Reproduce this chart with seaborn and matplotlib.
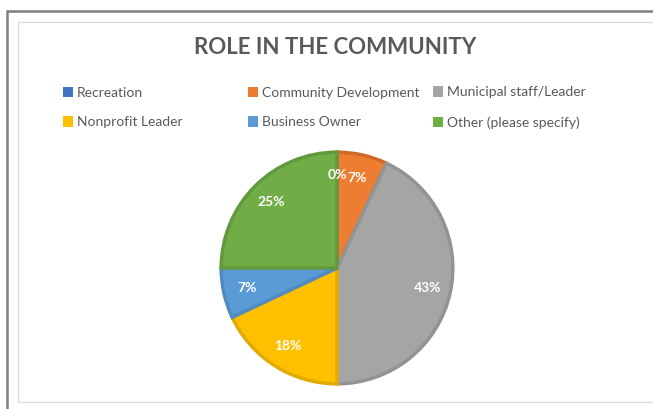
import matplotlib
matplotlib.use("Agg")
import matplotlib.pyplot as plt
import seaborn as sns
from matplotlib.patches import Patch, Rectangle

# Role in the community survey answers (percent of respondents)
roles = ['Recreation', 'Community Development', 'Municipal staff/Leader',
         'Nonprofit Leader', 'Business Owner', 'Other (please specify)']
shares = [0, 7, 43, 18, 7, 25]

colors = ['#4472C4', '#ED7D31', '#A5A5A5', '#FFC000', '#5B9BD5', '#70AD47']
edge_colors = ['#3b63ab', '#d06a26', '#939393', '#e3ab00', '#4f8ac0', '#62993d']

sns.set_style("white")
plt.rcParams['font.family'] = ['Lato', 'DejaVu Sans']

W, H = 653, 409
fig = plt.figure(figsize=(W / 100, H / 100), dpi=100)

# chart frame (outer dark border, inner light border)
fig.patches.append(Rectangle((7 / W, -0.1), 1.2, 1 - 11 / H + 0.1, transform=fig.transFigure,
                             fill=False, edgecolor='#7f7f7f', linewidth=1.8))
fig.patches.append(Rectangle((18 / W, 1 - 402 / H), 1.2, (402 - 22) / H, transform=fig.transFigure,
                             fill=False, edgecolor='#d9d9d9', linewidth=0.9))

# pie axes: center (337, 268), radius 117 px
cx, cy, r = 337, 268, 117
ax = fig.add_axes([(cx - r) / W, 1 - (cy + r) / H, 2 * r / W, 2 * r / H])
wedges, texts, autotexts = ax.pie(
    shares, colors=colors, startangle=90, counterclock=False,
    autopct='%.0f%%', pctdistance=0.8, radius=0.99,
    wedgeprops=dict(linewidth=2.5),
    textprops=dict(color='white', fontsize=10, fontweight='bold'))
for w, ec in zip(wedges, edge_colors):
    w.set_edgecolor(ec)
ax.set_xlim(-1, 1)
ax.set_ylim(-1, 1)
ax.set_aspect('equal')
ax.axis('off')

fig.text(335 / W, 1 - 48 / H, 'ROLE IN THE COMMUNITY', ha='center', va='center',
         fontsize=16, fontweight='bold', color='#595959')

# legend: three columns, two rows
handles = [Patch(facecolor=c, edgecolor='none') for c in colors]
col_x = [63, 248, 433]
for i, x in enumerate(col_x):
    leg = fig.legend([handles[i], handles[i + 3]], [roles[i], roles[i + 3]],
                     loc='center left', bbox_to_anchor=(x / W, 1 - 107.5 / H),
                     frameon=False, fontsize=10, borderpad=0, borderaxespad=0,
                     handlelength=0.75, handleheight=0.75, handletextpad=0.25,
                     labelspacing=1.28)
    for t in leg.get_texts():
        t.set_color('#595959')

fig.savefig('out.png', dpi=100)
